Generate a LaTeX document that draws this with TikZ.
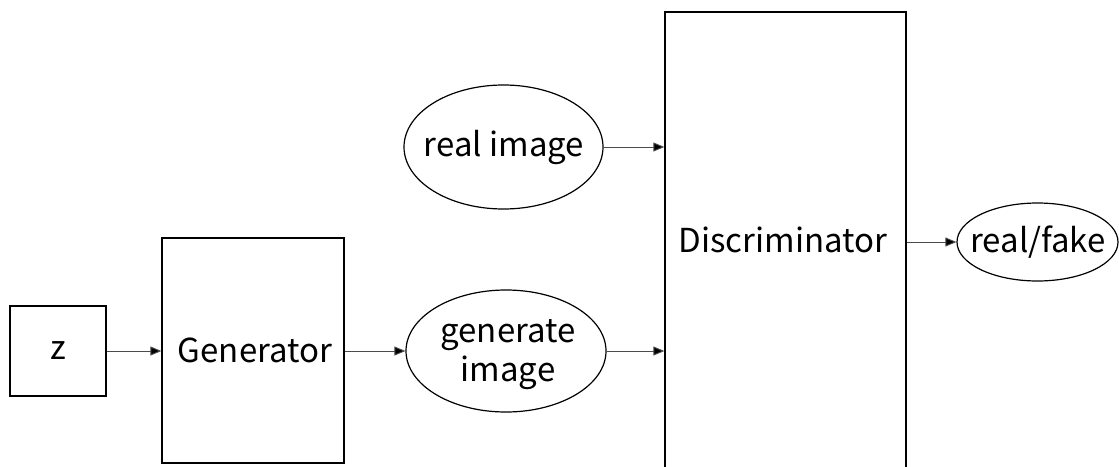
\documentclass[tikz,border=0pt]{standalone}
\usepackage{fontspec}
\setmainfont{Noto Sans CJK JP}
\usetikzlibrary{shapes.geometric,arrows.meta}
\tikzset{
  box/.style={draw=black, line width=1.3pt, rectangle, inner sep=0pt},
  oval/.style={draw=black, line width=1.2pt, ellipse, inner sep=0pt},
  lbl/.style={font=\fontsize{33}{39}\selectfont, inner sep=0pt, align=center},
  arr/.style={draw=black!70, line width=0.9pt, -{Triangle[length=11pt,width=9pt,fill=black]}}
}
\begin{document}
\begin{tikzpicture}[x=1pt,y=-1pt]
\useasboundingbox (0,0) rectangle (1119,466);
\clip (0,0) rectangle (1119,466);
\node[box, minimum width=96pt, minimum height=90pt] (z) at (58,351) {};
\node[lbl] (ztext) at (58,351) {z};
\node[box, minimum width=182pt, minimum height=225pt] (gen) at (253,350.5) {};
\node[lbl] (gentext) at (255,350) {Generator};
\node[oval, minimum width=200pt, minimum height=122pt] (gimg) at (506,351) {};
\node[lbl] (gimgtext) at (508,355) {generate\\image};
\node[oval, minimum width=199pt, minimum height=124pt] (rimg) at (503.5,147) {};
\node[lbl] (rimgtext) at (504,147) {real image};
\node[box, minimum width=241pt, minimum height=468pt] (disc) at (785.5,246) {};
\node[lbl] (dtext) at (783,240) {Discriminator};
\node[oval, minimum width=161pt, minimum height=78pt] (rf) at (1037.5,242) {};
\node[lbl] (rftext) at (1038,242) {real/fake};
\draw[arr] (z.east) -- (gen.west |- z.east);
\draw[arr] (gen.east |- gimg.west) -- (gimg.west);
\draw[arr] (rimg.east) -- (rimg.east -| disc.west);
\draw[arr] (gimg.east) -- (gimg.east -| disc.west);
\draw[arr] (disc.east |- rf.west) -- (rf.west);
\end{tikzpicture}
\end{document}
